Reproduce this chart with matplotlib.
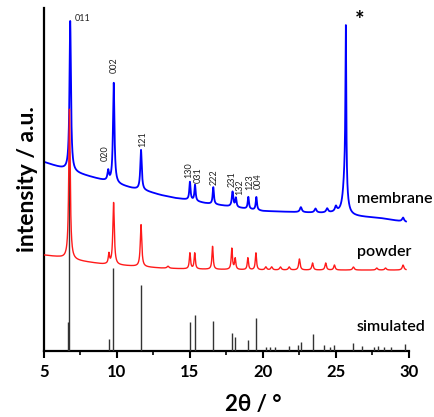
import numpy as np
import matplotlib
matplotlib.use("Agg")
import matplotlib.pyplot as plt

plt.rcParams['font.family'] = ['Lato', 'DejaVu Sans']

# all intensities are in "picture units": 0 = x axis, 343 = top of the frame

# membrane (blue) - baseline anchors and peaks
mem_base_x = [5, 6, 7, 8, 9, 10, 11, 12, 13, 14, 15, 16, 17, 18, 19, 20, 22, 24, 25, 26, 28, 29.8]
mem_base_y = [189, 184, 179, 175, 171, 167, 163, 160, 156, 153, 151, 148, 146, 144, 142, 140, 139, 138, 138, 135, 133, 129]
mem_pk_pos = [6.8, 9.4, 9.78, 11.65, 15.0, 15.35, 16.6, 17.92, 18.15, 19.0, 19.55,
              22.6, 23.6, 24.4, 25.0, 25.68, 25.62, 29.6]
mem_pk_amp = [150, 10, 100, 40, 18, 16, 17, 15, 9, 12, 13,
              5, 4, 4, 5, 158, 38, 4]
mem_pk_wid = [0.06, 0.06, 0.06, 0.06, 0.05, 0.05, 0.05, 0.06, 0.05, 0.05, 0.05,
              0.08, 0.08, 0.08, 0.08, 0.035, 0.15, 0.08]

# powder (red)
pow_base_x = [5, 6, 7, 8, 9, 10, 11, 12, 13, 15, 20, 25, 29.8]
pow_base_y = [96, 94, 91, 89, 87, 86, 85, 84, 83, 82, 81, 81, 81]
pow_pk_pos = [6.75, 9.45, 9.77, 11.65, 13.5, 15.0, 15.33, 16.55, 17.87, 18.1, 18.97, 19.52,
              20.2, 20.6, 21.2, 21.8, 22.5, 23.4, 24.3, 24.9, 26.2, 27.8, 28.4, 29.6]
pow_pk_amp = [150, 10, 62, 42, 2, 16, 16, 23, 21, 11, 12, 17,
              3, 3, 3, 3, 11, 7, 7, 5, 3, 2, 2, 5]
pow_pk_wid = [0.06, 0.05, 0.06, 0.06, 0.08, 0.05, 0.05, 0.05, 0.05, 0.05, 0.05, 0.05,
              0.07, 0.07, 0.07, 0.07, 0.06, 0.06, 0.06, 0.06, 0.07, 0.07, 0.07, 0.07]

# simulated stick pattern (black)
sim_pos = [6.62, 6.75, 9.45, 9.75, 11.68, 15.0, 15.36, 16.58, 17.88, 18.07, 18.98, 19.52,
           20.2, 20.5, 20.8, 21.8, 22.4, 22.6, 23.45, 24.2, 24.6, 24.9,
           26.2, 26.8, 27.6, 27.9, 28.3, 28.8, 29.7]
sim_int = [29, 200, 12, 83, 66, 29, 36, 30, 18, 14, 11, 33,
           4, 4, 4, 5, 6, 9, 17, 6, 4, 6,
           8, 5, 4, 5, 4, 4, 7]

mem_labels = ['011', '020', '002', '121', '130', '031', '222', '231', '132', '123', '004']
mem_lab_x = [7.12, 9.18, 9.8, 11.78, 14.93, 15.6, 16.64, 17.9, 18.4, 19.1, 19.7]
mem_lab_y = [332, 190, 278, 204, 173, 168, 166, 164, 156, 161, 162]


def pattern(x, bx, by, pos, amp, wid):
    y = np.interp(x, bx, by)
    for p, a, w in zip(pos, amp, wid):
        y = y + a / (1 + ((x - p) / w) ** 2)
    return y


x = np.linspace(5, 29.8, 4000)
mem = pattern(x, mem_base_x, mem_base_y, mem_pk_pos, mem_pk_amp, mem_pk_wid)
pwd = pattern(x, pow_base_x, pow_base_y, pow_pk_pos, pow_pk_amp, pow_pk_wid)

fig = plt.figure(figsize=(4.35, 4.17), dpi=100)
ax = fig.add_axes([0.101, 0.158, 0.839, 0.823])

ax.plot(x, mem, color='#0000ff', lw=1.3, zorder=2)
ax.vlines(sim_pos, 0, sim_int, color='#333333', lw=1.0, zorder=3)
ax.plot(x, pwd, color='#ff1a1a', lw=1.0, zorder=4)

for i, (t, lx, ly) in enumerate(zip(mem_labels, mem_lab_x, mem_lab_y)):
    if i == 0:
        ax.text(lx, ly, t, fontsize=6.5, ha='left', va='center', color='#222222')
    else:
        ax.text(lx, ly, t, fontsize=6.5, rotation=90, ha='center', va='bottom', color='#222222')

ax.text(26.3, 330, '*', fontsize=16, fontweight='bold', ha='left', va='center')
ax.text(26.44, 152, 'membrane', fontsize=11.5, fontweight='semibold', va='center', clip_on=False)
ax.text(26.44, 99, 'powder', fontsize=11.5, fontweight='semibold', va='center', clip_on=False)
ax.text(26.44, 24, 'simulated', fontsize=11.5, fontweight='semibold', va='center', clip_on=False)

ax.set_xlim(5, 30)
ax.set_ylim(0, 343)
ax.set_xticks([5, 10, 15, 20, 25, 30])
ax.set_xticks([7.5, 12.5, 17.5, 22.5, 27.5], minor=True)
ax.set_yticks([])
ax.tick_params(axis='x', which='major', direction='out', length=5, width=1.5, labelsize=12, pad=4)
ax.tick_params(axis='x', which='minor', direction='out', length=3, width=1.2)
for lab in ax.get_xticklabels():
    lab.set_fontweight('bold')
for s in ['top', 'right']:
    ax.spines[s].set_visible(False)
for s in ['left', 'bottom']:
    ax.spines[s].set_linewidth(1.6)

ax.set_ylabel('intensity / a.u.', fontsize=16.5, fontweight='bold', labelpad=4)
fig.text(253 / 435, 1 - 405 / 417, '2θ / °', fontsize=16, fontweight='bold', ha='center', va='center')

fig.savefig('out.png', dpi=100)
